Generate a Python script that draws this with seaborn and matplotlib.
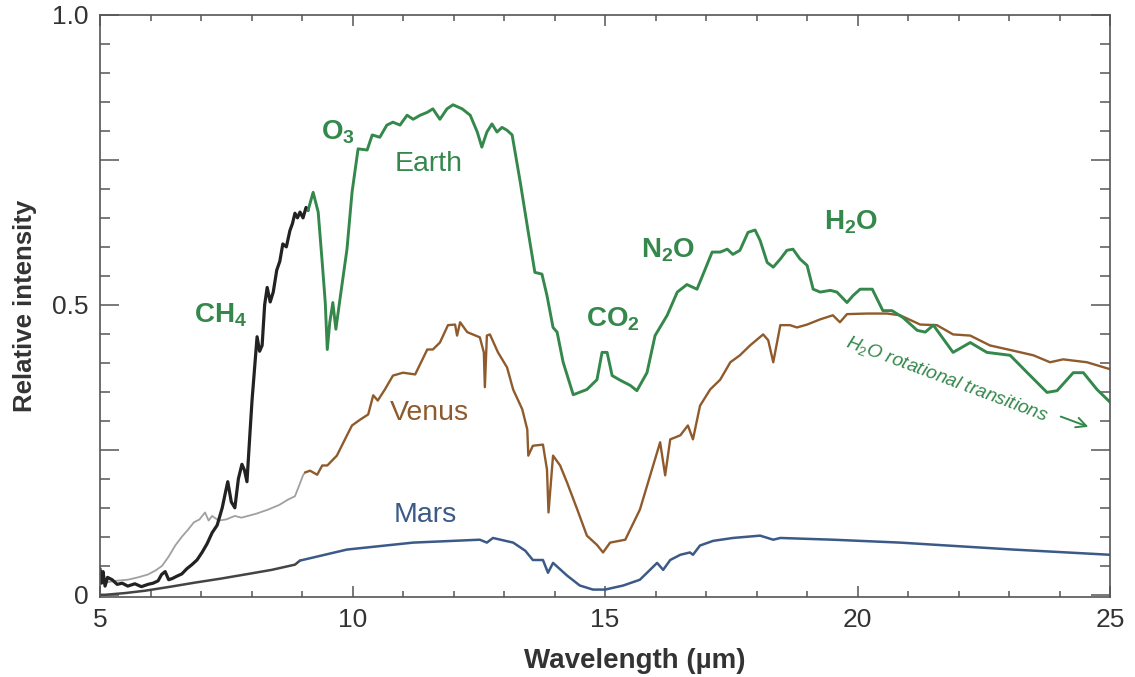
## Thermal emission spectra of Venus, Earth and Mars

import numpy as np
import pandas as pd
import seaborn as sns
import matplotlib.pyplot as plt
from matplotlib.ticker import MultipleLocator

# Earth, short-wave part (black, CH4 band)
earth_sw_x = [5.00, 5.03, 5.06, 5.10, 5.15, 5.24, 5.34, 5.44, 5.55, 5.69, 5.82, 5.95, 6.05, 6.15, 6.22, 6.29,
              6.36, 6.43, 6.52, 6.62, 6.72, 6.82, 6.92, 7.02, 7.12, 7.22, 7.32, 7.42, 7.48, 7.53, 7.60, 7.67,
              7.74, 7.81, 7.86, 7.91, 7.97, 8.01, 8.06, 8.11, 8.16, 8.21, 8.26, 8.31, 8.37, 8.43, 8.50, 8.56,
              8.62, 8.69, 8.76, 8.81, 8.86, 8.91, 8.96, 9.02, 9.08, 9.12]
earth_sw_y = [0.045, 0.020, 0.040, 0.015, 0.030, 0.026, 0.018, 0.020, 0.015, 0.019, 0.014, 0.018, 0.020, 0.024,
              0.035, 0.040, 0.026, 0.028, 0.032, 0.036, 0.045, 0.052, 0.060, 0.073, 0.088, 0.107, 0.120, 0.150,
              0.175, 0.195, 0.160, 0.150, 0.200, 0.225, 0.215, 0.195, 0.280, 0.335, 0.390, 0.445, 0.420, 0.430,
              0.500, 0.530, 0.505, 0.522, 0.560, 0.575, 0.605, 0.600, 0.628, 0.640, 0.658, 0.650, 0.660, 0.650,
              0.668, 0.663]

# Earth (green)
earth_x = [9.12, 9.22, 9.32, 9.40, 9.46, 9.50, 9.55, 9.61, 9.67, 9.75, 9.89, 9.99, 10.11, 10.29, 10.39, 10.54,
           10.68, 10.80, 10.94, 11.08, 11.20, 11.34, 11.48, 11.59, 11.73, 11.87, 11.99, 12.17, 12.33, 12.47,
           12.56, 12.66, 12.76, 12.86, 12.96, 13.06, 13.16, 13.32, 13.48, 13.61, 13.75, 13.85, 13.97, 14.05,
           14.17, 14.37, 14.64, 14.84, 14.94, 15.04, 15.14, 15.30, 15.50, 15.63, 15.83, 15.99, 16.23, 16.43,
           16.62, 16.82, 16.98, 17.12, 17.28, 17.42, 17.53, 17.67, 17.83, 17.97, 18.07, 18.21, 18.33, 18.47,
           18.60, 18.72, 18.86, 19.00, 19.12, 19.26, 19.46, 19.59, 19.79, 19.91, 20.05, 20.29, 20.50, 20.68,
           20.90, 21.18, 21.34, 21.50, 21.89, 22.23, 22.56, 23.02, 23.36, 23.75, 23.95, 24.27, 24.47, 24.74,
           25.00]
earth_y = [0.663, 0.694, 0.660, 0.573, 0.504, 0.423, 0.470, 0.504, 0.458, 0.509, 0.596, 0.694, 0.769, 0.767,
           0.793, 0.789, 0.810, 0.815, 0.810, 0.827, 0.820, 0.827, 0.832, 0.838, 0.820, 0.838, 0.845, 0.838,
           0.827, 0.798, 0.772, 0.798, 0.812, 0.798, 0.806, 0.801, 0.793, 0.712, 0.625, 0.556, 0.553, 0.516,
           0.461, 0.453, 0.401, 0.345, 0.354, 0.371, 0.418, 0.418, 0.378, 0.370, 0.361, 0.352, 0.383, 0.447,
           0.482, 0.522, 0.535, 0.527, 0.561, 0.591, 0.591, 0.596, 0.587, 0.594, 0.625, 0.629, 0.611, 0.573,
           0.565, 0.579, 0.594, 0.596, 0.579, 0.568, 0.527, 0.522, 0.525, 0.522, 0.504, 0.516, 0.527, 0.527,
           0.490, 0.490, 0.478, 0.456, 0.453, 0.465, 0.418, 0.435, 0.418, 0.413, 0.383, 0.349, 0.352, 0.383,
           0.383, 0.354, 0.332]

# Venus, short-wave part (light grey)
venus_sw_x = [5.00, 5.10, 5.30, 5.55, 5.75, 5.95, 6.10, 6.23, 6.36, 6.49, 6.62, 6.74, 6.86, 6.97, 7.08, 7.15,
              7.22, 7.35, 7.50, 7.67, 7.80, 7.93, 8.10, 8.33, 8.55, 8.72, 8.86, 8.95, 9.02, 9.06]
venus_sw_y = [0.030, 0.021, 0.024, 0.026, 0.030, 0.035, 0.042, 0.050, 0.066, 0.085, 0.100, 0.112, 0.125, 0.130,
              0.142, 0.128, 0.136, 0.128, 0.130, 0.136, 0.133, 0.136, 0.140, 0.147, 0.155, 0.164, 0.170, 0.190,
              0.206, 0.211]

# Venus (brown)
venus_x = [9.06, 9.16, 9.30, 9.40, 9.50, 9.69, 9.89, 9.99, 10.15, 10.31, 10.41, 10.50, 10.64, 10.80, 11.00,
           11.24, 11.48, 11.59, 11.73, 11.89, 12.03, 12.07, 12.13, 12.27, 12.52, 12.60, 12.62, 12.66, 12.72,
           12.88, 13.06, 13.18, 13.36, 13.46, 13.48, 13.57, 13.77, 13.85, 13.88, 13.97, 14.11, 14.25, 14.45,
           14.64, 14.84, 14.96, 15.10, 15.40, 15.69, 16.09, 16.19, 16.29, 16.49, 16.64, 16.74, 16.88, 17.08,
           17.28, 17.48, 17.67, 17.87, 18.13, 18.23, 18.33, 18.47, 18.66, 18.80, 19.00, 19.26, 19.51, 19.65,
           19.79, 20.19, 20.58, 20.84, 21.24, 21.57, 21.89, 22.23, 22.62, 23.08, 23.48, 23.81, 24.07, 24.54,
           25.00]
venus_y = [0.211, 0.214, 0.207, 0.223, 0.223, 0.240, 0.275, 0.292, 0.302, 0.311, 0.344, 0.335, 0.354, 0.378,
           0.383, 0.380, 0.423, 0.423, 0.435, 0.465, 0.466, 0.447, 0.470, 0.453, 0.444, 0.418, 0.358, 0.447,
           0.449, 0.418, 0.392, 0.354, 0.320, 0.285, 0.240, 0.257, 0.259, 0.216, 0.142, 0.240, 0.223, 0.193,
           0.147, 0.102, 0.086, 0.073, 0.090, 0.095, 0.147, 0.263, 0.206, 0.268, 0.275, 0.292, 0.268, 0.326,
           0.354, 0.371, 0.401, 0.413, 0.430, 0.449, 0.439, 0.401, 0.465, 0.465, 0.461, 0.466, 0.475, 0.482,
           0.470, 0.484, 0.485, 0.485, 0.482, 0.466, 0.465, 0.449, 0.447, 0.430, 0.421, 0.413, 0.401, 0.406,
           0.401, 0.389]

# Mars, short-wave part (dark grey)
mars_sw_x = [5.00, 5.10, 5.50, 5.89, 6.40, 6.88, 7.40, 7.87, 8.40, 8.86, 8.96]
mars_sw_y = [0.000, 0.000, 0.003, 0.007, 0.014, 0.021, 0.028, 0.035, 0.043, 0.052, 0.059]

# Mars (blue)
mars_x = [8.96, 9.89, 11.20, 12.52, 12.66, 12.78, 13.18, 13.42, 13.57, 13.77, 13.87, 13.97, 14.25, 14.50,
          14.76, 15.00, 15.36, 15.69, 16.03, 16.15, 16.29, 16.49, 16.68, 16.74, 16.88, 17.14, 17.53, 18.07,
          18.33, 18.47, 19.51, 20.84, 21.77, 23.08, 25.00]
mars_y = [0.059, 0.078, 0.090, 0.095, 0.090, 0.098, 0.090, 0.076, 0.060, 0.060, 0.038, 0.055, 0.033, 0.016,
          0.009, 0.009, 0.016, 0.026, 0.055, 0.043, 0.060, 0.069, 0.073, 0.069, 0.085, 0.093, 0.098, 0.102,
          0.095, 0.098, 0.095, 0.090, 0.085, 0.078, 0.069]

GREEN = "#34884b"
BROWN = "#8f5b2c"
BLUE = "#3b5a87"

sns.set_style("ticks")
plt.rcParams['font.family'] = ['Liberation Sans', 'DejaVu Sans']
plt.rcParams['mathtext.fontset'] = 'custom'
plt.rcParams['mathtext.rm'] = 'Liberation Sans'
plt.rcParams['mathtext.it'] = 'Liberation Sans:italic'
plt.rcParams['mathtext.bf'] = 'Liberation Sans:bold'

fig = plt.figure(figsize=(11.35, 6.77), dpi=100)
ax = fig.add_axes([0.0881, 0.118, 0.890, 0.860])

series = [
    (venus_sw_x, venus_sw_y, "#a0a0a0", 1.3),
    (mars_sw_x, mars_sw_y, "#444444", 1.8),
    (mars_x, mars_y, BLUE, 1.8),
    (venus_x, venus_y, BROWN, 1.7),
    (earth_sw_x, earth_sw_y, "#222222", 2.3),
    (earth_x, earth_y, GREEN, 2.1),
]
for xs, ys, col, lw in series:
    df = pd.DataFrame({"wl": xs, "val": ys})
    sns.lineplot(data=df, x="wl", y="val", ax=ax, color=col, lw=lw, estimator=None, sort=False)

ax.set_xlim(5, 25)
ax.set_ylim(-0.004, 1.0)
ax.set_xticks([5, 10, 15, 20, 25])
ax.xaxis.set_minor_locator(MultipleLocator(1))
ax.set_yticks([0, 0.25, 0.5, 0.75, 1.0])
ax.set_yticklabels(["0", "", "0.5", "", "1.0"])
ax.yaxis.set_minor_locator(MultipleLocator(0.05))
ax.tick_params(which='both', direction='in', top=True, right=True, colors="#555555",
               labelcolor="#333333", labelsize=19, width=1.1)
ax.tick_params(axis='y', which='major', length=14, pad=8)
ax.tick_params(axis='y', which='minor', length=7)
ax.tick_params(axis='x', which='major', length=8, pad=8)
ax.tick_params(axis='x', which='minor', length=4)
for s in ax.spines.values():
    s.set_color("#555555")
    s.set_linewidth(1.2)

ax.set_xlabel("Wavelength (µm)", fontsize=20, fontweight='bold', color="#333333")
ax.set_ylabel("Relative intensity", fontsize=18.5, fontweight='bold', color="#333333")
ax.xaxis.set_label_coords(0.529, -0.088)
ax.yaxis.set_label_coords(-0.062, 0.5)

# planet names
ax.text(11.50, 0.743, "Earth", color=GREEN, fontsize=20.5, ha='center', va='center')
ax.text(11.53, 0.314, "Venus", color=BROWN, fontsize=20.5, ha='center', va='center')
ax.text(11.44, 0.138, "Mars", color=BLUE, fontsize=20.5, ha='center', va='center')

# molecule labels
ax.text(7.38, 0.482, r"$\mathbf{CH_4}$", color=GREEN, fontsize=20, ha='center', va='center')
ax.text(9.71, 0.798, r"$\mathbf{O_3}$", color=GREEN, fontsize=20, ha='center', va='center')
ax.text(15.16, 0.475, r"$\mathbf{CO_2}$", color=GREEN, fontsize=20, ha='center', va='center')
ax.text(16.25, 0.594, r"$\mathbf{N_2O}$", color=GREEN, fontsize=20, ha='center', va='center')
ax.text(19.87, 0.642, r"$\mathbf{H_2O}$", color=GREEN, fontsize=20, ha='center', va='center')

ax.text(21.77, 0.372, r"$\mathit{H_2O}$ rotational transitions", color=GREEN, fontsize=13.8,
        style='italic', rotation=-20.5, ha='center', va='center', rotation_mode='anchor')
ax.annotate("", xy=(24.62, 0.288), xytext=(23.97, 0.309),
            arrowprops=dict(arrowstyle="->", color=GREEN, lw=1.4, mutation_scale=18))

fig.savefig("out.png", dpi=100)
